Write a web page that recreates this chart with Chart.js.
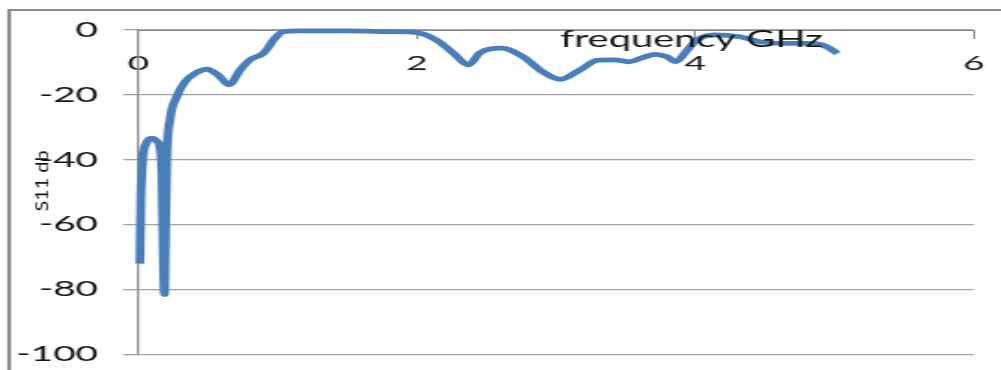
<!DOCTYPE html>
<html>
<head>
<meta charset="utf-8">
<title>S11 vs frequency</title>
<script src="https://cdn.jsdelivr.net/npm/chart.js@4.4.1/dist/chart.umd.min.js"></script>
<style>
  html, body { margin: 0; padding: 0; background: #ffffff; overflow: hidden; }
</style>
</head>
<body>
<canvas id="chart" width="541" height="370" style="display:block;width:1001px;height:370px;"></canvas>
<script>
// Measured reflection coefficient S11 (dB) against frequency (GHz)
const freqGHz = [0.01, 0.017, 0.03, 0.055, 0.095, 0.13, 0.155, 0.168, 0.178, 0.186,
                 0.194, 0.203, 0.226, 0.274, 0.334, 0.41, 0.49, 0.57, 0.65, 0.73,
                 0.8, 0.895, 0.93, 0.97, 1.04, 1.16, 1.5, 1.8, 2.0, 2.14,
                 2.26, 2.37, 2.45, 2.61, 2.76, 2.9, 3.03, 3.17, 3.3, 3.42,
                 3.52, 3.62, 3.71, 3.79, 3.86, 3.94, 4.01, 4.13, 4.32, 4.46,
                 4.65, 4.84, 4.94, 5.02];
const s11dB   = [-72, -52, -40, -35, -33.3, -34.2, -36.5, -45, -70, -81.5,
                 -62, -40, -27.7, -20.6, -15.9, -13.3, -12.1, -13.8, -16.9, -12.3,
                 -9.2, -7.2, -5.5, -3, -0.5, -0.3, -0.3, -0.5, -0.8, -3.1,
                 -7.1, -10.8, -7.1, -5.6, -8.2, -12.8, -15.2, -12.3, -9.3, -9.2,
                 -9.8, -8.5, -7.5, -8.2, -9.7, -6.2, -3.1, -1.5, -2.1, -3.6,
                 -4.1, -4.1, -5.1, -7.2];

const xTickValues = [0, 2, 4, 6];
const yTickValues = [0, -20, -40, -60, -80, -100];
const xTitle = 'frequency GHz';
const yTitle = 'S11 db';

// The canvas bitmap is narrower than its box, so everything is drawn wide.
const STRETCH = 1001 / 541;
const TEXT = '#141414';
const GRID = '#a3a3a3';
const AXIS = '#8a8a8a';

Chart.defaults.font.family = 'Lato';
Chart.defaults.color = TEXT;

// Outer frame of the chart area plus the two axis titles
const frameAndTitles = {
  id: 'frameAndTitles',
  beforeDraw(chart) {
    const ctx = chart.ctx;
    ctx.save();
    ctx.strokeStyle = '#8a8a8a';
    ctx.lineWidth = 2;
    ctx.beginPath();
    ctx.moveTo(4.9, 400);
    ctx.lineTo(4.9, 10);
    ctx.lineTo(chart.width + 10, 10);
    ctx.stroke();
    ctx.restore();
  },
  afterDraw(chart) {
    const ctx = chart.ctx;
    // x-axis title, placed in the upper right of the plot
    ctx.save();
    ctx.font = '23px Lato';
    ctx.fillStyle = TEXT;
    ctx.textAlign = 'left';
    ctx.textBaseline = 'alphabetic';
    const wx = ctx.measureText(xTitle).width;
    const targetX = 263 / STRETCH;
    ctx.translate(560 / STRETCH, 46.5);
    ctx.scale(targetX / wx, 1);
    ctx.fillText(xTitle, 0, 0);
    ctx.restore();

    // y-axis title, rotated
    ctx.save();
    ctx.font = '16px Lato';
    ctx.fillStyle = TEXT;
    ctx.textAlign = 'center';
    ctx.textBaseline = 'middle';
    const wy = ctx.measureText(yTitle).width;
    ctx.translate(43 / STRETCH, 181);
    ctx.rotate(-Math.PI / 2);
    ctx.scale(61 / wy, 0.6);
    ctx.fillText(yTitle, 0, 0);
    ctx.restore();
  }
};

const points = freqGHz.map((f, i) => ({ x: f, y: s11dB[i] }));

new Chart(document.getElementById('chart'), {
  type: 'line',
  data: {
    datasets: [{
      data: points,
      borderColor: '#4a7ebb',
      borderWidth: 4.8,
      pointRadius: 0,
      pointHoverRadius: 0,
      fill: false,
      cubicInterpolationMode: 'monotone',
      clip: false
    }]
  },
  options: {
    responsive: false,
    animation: false,
    devicePixelRatio: 1,
    events: [],
    layout: { padding: { left: 0, right: 541 - 974 / STRETCH, top: 30, bottom: 15.5 } },
    plugins: { legend: { display: false }, tooltip: { enabled: false }, title: { display: false } },
    scales: {
      x: {
        type: 'linear',
        position: { y: 0 },
        min: 0,
        max: 6,
        afterBuildTicks: s => { s.ticks = xTickValues.map(v => ({ value: v })); },
        afterFit: s => { s.paddingLeft = 0; s.paddingRight = 0; },
        ticks: { font: { size: 20 }, color: TEXT, padding: 13.5, maxRotation: 0, autoSkip: false },
        grid: { display: true, drawOnChartArea: false, drawTicks: true, tickLength: 8, color: AXIS, lineWidth: 1 },
        border: { display: true, color: AXIS, width: 1 }
      },
      y: {
        type: 'linear',
        position: 'left',
        min: -100,
        max: 0,
        afterBuildTicks: s => { s.ticks = yTickValues.map(v => ({ value: v })); },
        afterFit: s => { s.width = 138.5 / STRETCH; s.paddingTop = 0; s.paddingBottom = 0; },
        ticks: { font: { size: 21 }, color: TEXT, padding: 13.5, autoSkip: false },
        grid: { color: GRID, lineWidth: 1.3, tickLength: 8.3, drawTicks: true },
        border: { display: true, color: AXIS, width: 1.2 }
      }
    }
  },
  plugins: [frameAndTitles]
});
</script>
</body>
</html>
